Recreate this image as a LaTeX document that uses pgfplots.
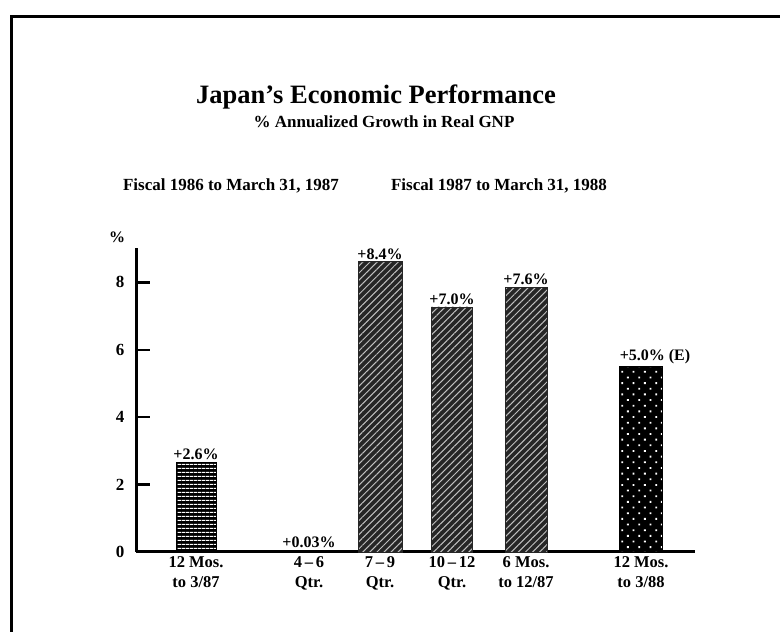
\documentclass[border=0pt]{standalone}
\usepackage{fontspec}
\setmainfont{Liberation Serif}
\usepackage{pgfplots}
\pgfplotsset{compat=1.18}
\usetikzlibrary{patterns,patterns.meta}
\begin{document}
\begin{tikzpicture}[x=1pt,y=1pt]
\useasboundingbox (0,0) rectangle (780,632);
\draw[line width=3pt] (11,0) -- (11,615) -- (780,615);
\node[font=\bfseries\fontsize{26.5}{30}\selectfont] at (376,535) {Japan's Economic Performance};
\node[font=\bfseries\fontsize{17}{20}\selectfont] at (384,510) {\% Annualized Growth in Real GNP};
\node[font=\bfseries\fontsize{17}{20}\selectfont] at (231,446) {Fiscal 1986 to March 31, 1987};
\node[font=\bfseries\fontsize{17}{20}\selectfont] at (499,446) {Fiscal 1987 to March 31, 1988};
\node[font=\bfseries\fontsize{16}{18}\selectfont] at (117,395) {\%};
\begin{axis}[
  at={(136pt,80pt)}, anchor=south west,
  scale only axis, width=559pt, height=304pt,
  xmin=136, xmax=695, ymin=0, ymax=9.02,
  axis x line*=bottom, axis y line*=left,
  axis line style={black, line width=3pt},
  ytick={0,2,4,6,8},
  major tick length=14pt,
  ytick style={black, line width=2.5pt},
  tick align=inside,
  yticklabel style={font=\bfseries\fontsize{17}{19}\selectfont, xshift=-8pt},
  /pgf/number format/assume math mode=true,
  xtick={196,309,380,452,526,641},
  xticklabels={{\strut 12 Mos.\\\strut to 3/87},{\strut 4\,--\,6\\\strut Qtr.},{\strut 7\,--\,9\\\strut Qtr.},{\strut 10\,--\,12\\\strut Qtr.},{\strut 6 Mos.\\\strut to 12/87},{\strut 12 Mos.\\\strut to 3/88}},
  xticklabel style={align=center, anchor=north, font=\bfseries\fontsize{16.5}{20}\selectfont, yshift=2pt},
  xtick style={draw=none},
  clip=false,
  every node near coord/.append style={font=\bfseries\fontsize{16}{19}\selectfont, anchor=south, inner sep=2pt},
]
\addplot[ybar, bar width=40, fill=black, draw=black, line width=1pt,
  postaction={pattern={Lines[angle=0,distance=4pt,line width=1.2pt]}, pattern color=white},
  nodes near coords={+2.6\%}] coordinates {(196,2.66)};
\addplot[ybar, bar width=42, fill=black, draw=black, line width=2pt,
  nodes near coords={+0.03\%}] coordinates {(309,0.03)};
\addplot[ybar, bar width=44, fill=black!85, draw=black!85,
  postaction={pattern={Lines[angle=45,distance=5pt,line width=1pt]}, pattern color=white!75!black},
  nodes near coords={+8.4\%}] coordinates {(380,8.62)};
\addplot[ybar, bar width=41, fill=black!85, draw=black!85,
  postaction={pattern={Lines[angle=45,distance=5pt,line width=1pt]}, pattern color=white!75!black},
  nodes near coords={+7.0\%}] coordinates {(452,7.27)};
\addplot[ybar, bar width=42, fill=black!85, draw=black!85,
  postaction={pattern={Lines[angle=45,distance=5pt,line width=1pt]}, pattern color=white!75!black},
  nodes near coords={+7.6\%}] coordinates {(526,7.86)};
\addplot[ybar, bar width=43, fill=black, draw=black,
  postaction={pattern={Dots[angle=45,distance=8pt,radius=1.3pt]}, pattern color=white},
  nodes near coords={+5.0\% (E)},
  every node near coord/.append style={xshift=14pt}] coordinates {(641,5.52)};
\end{axis}
\end{tikzpicture}
\end{document}
